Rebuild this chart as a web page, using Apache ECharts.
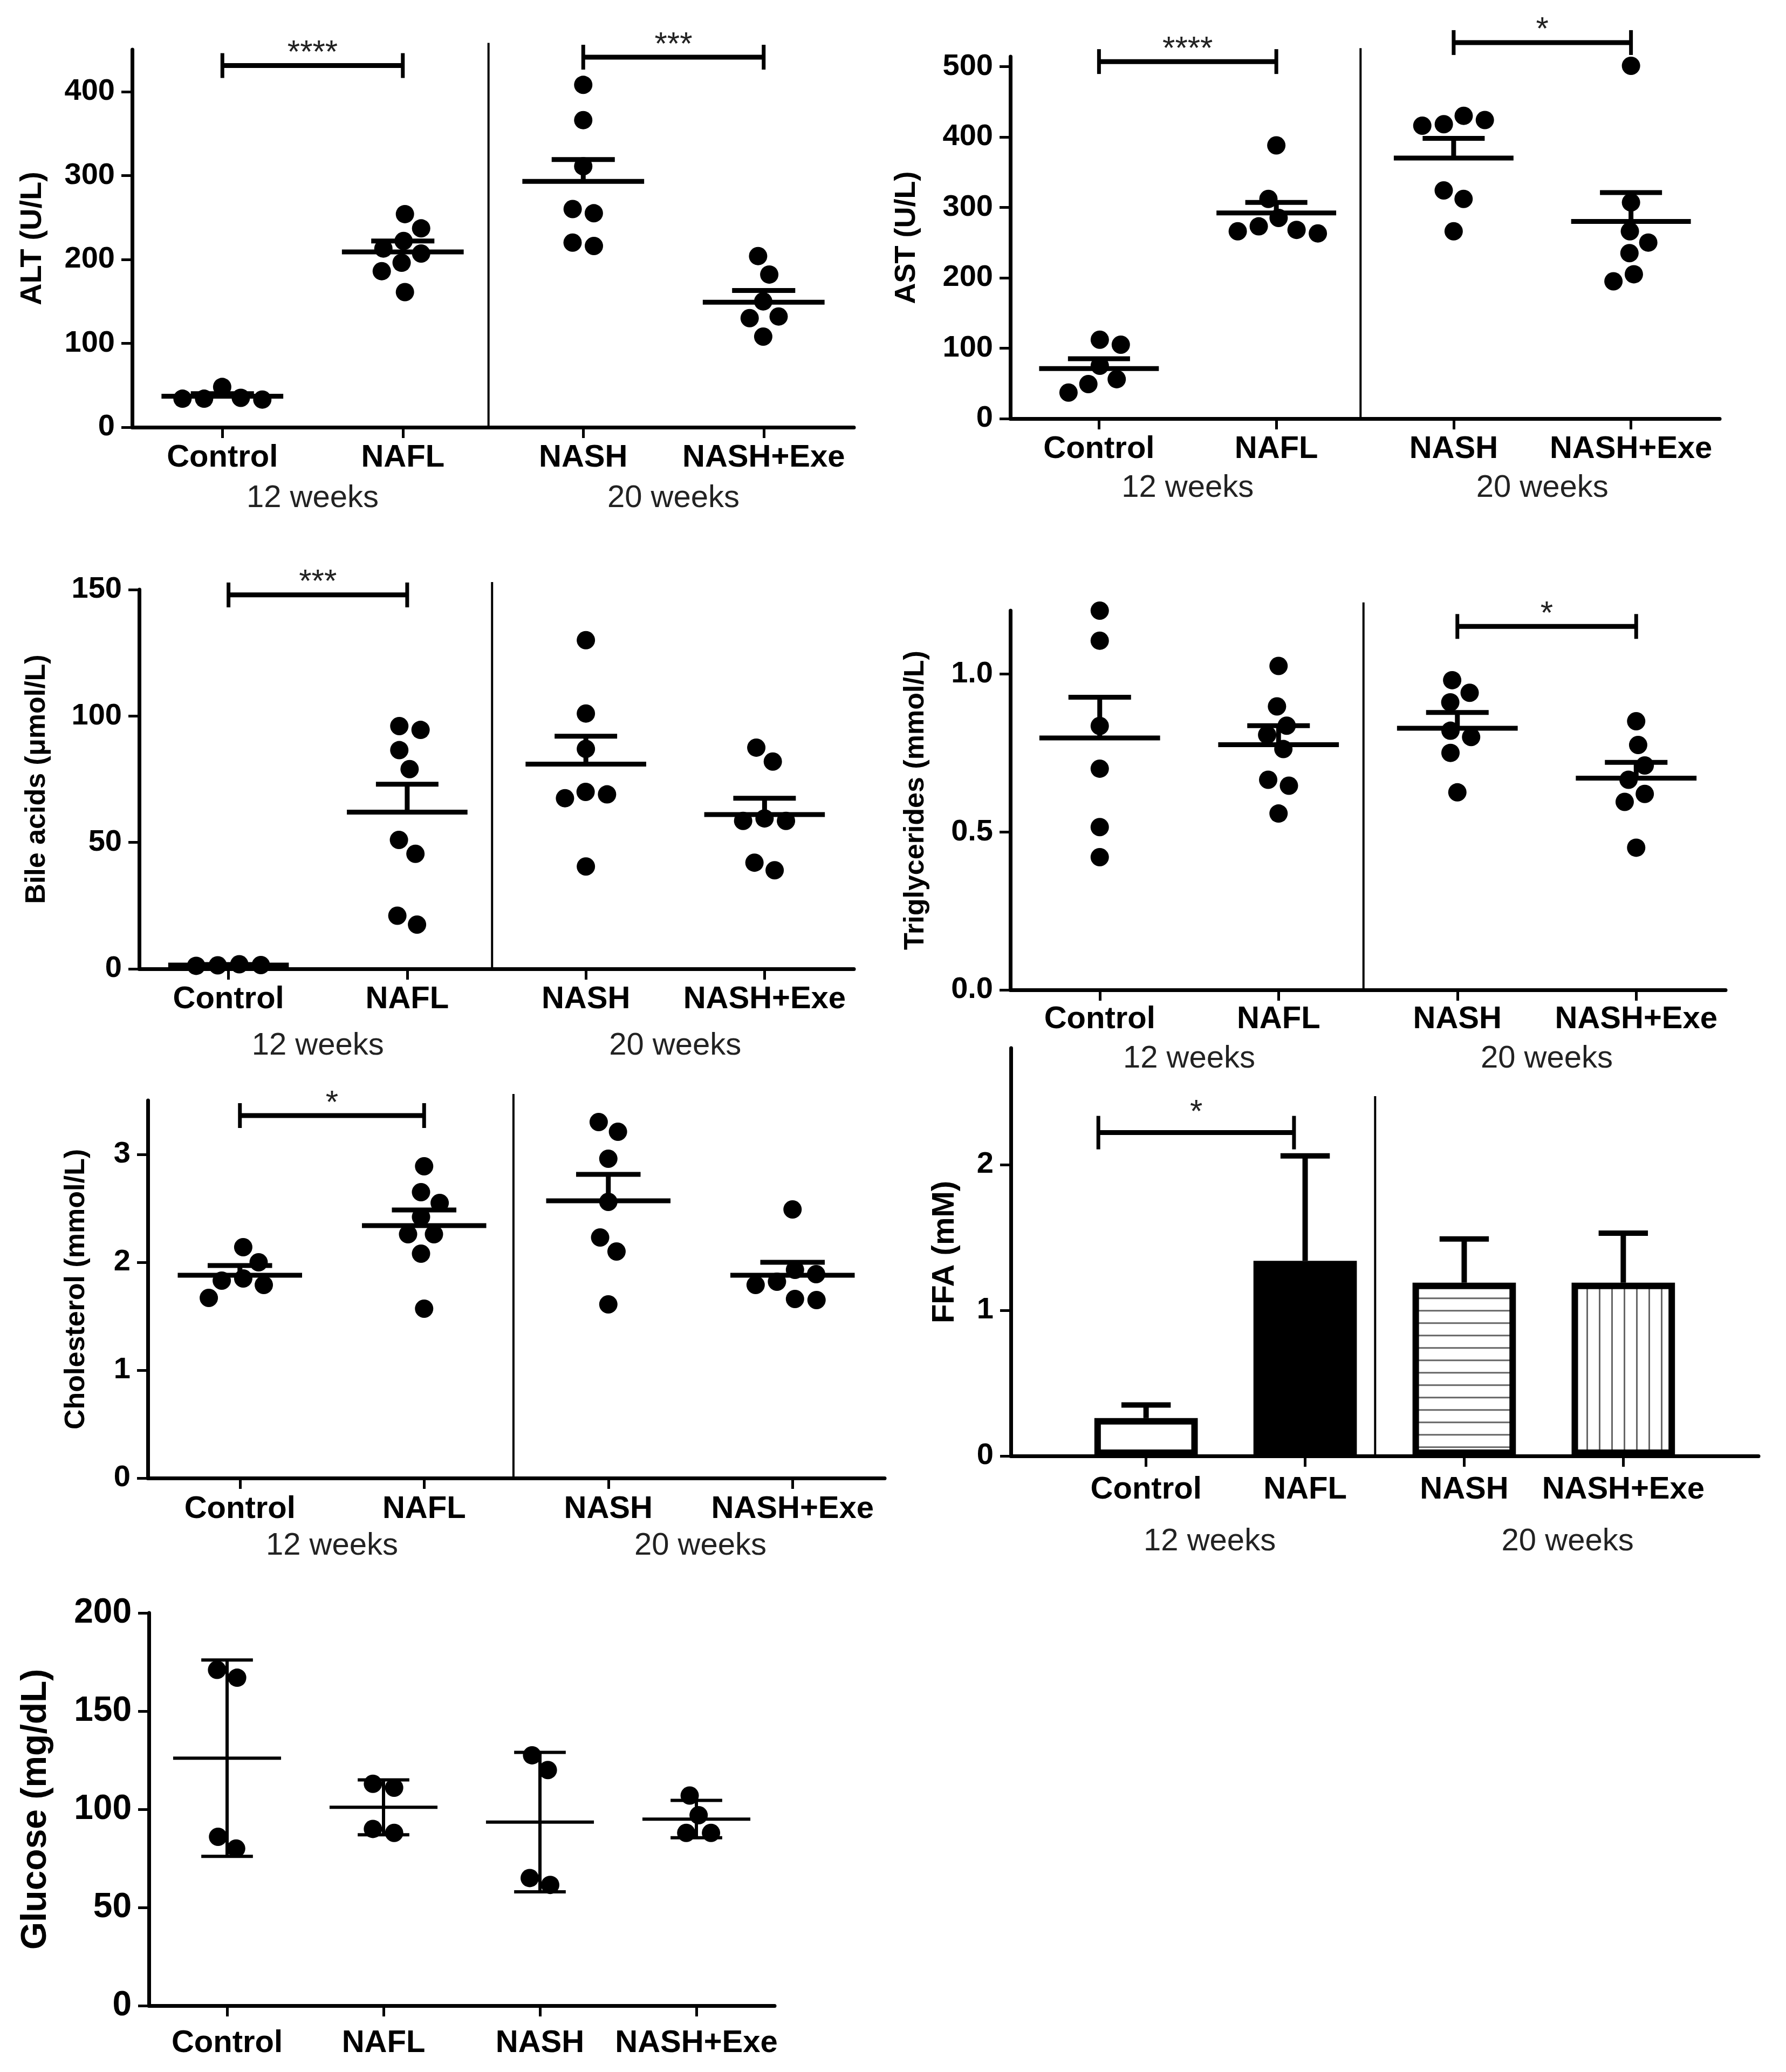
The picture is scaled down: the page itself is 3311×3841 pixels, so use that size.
<!DOCTYPE html>
<html>
<head>
<meta charset="utf-8">
<title>Serum biochemistry</title>
<script src="https://cdn.jsdelivr.net/npm/echarts@6/dist/echarts.min.js"></script>
<style>
html, body { margin: 0; padding: 0; background: #fff; }
#main { width: 3311px; height: 3841px; }
</style>
</head>
<body>
<div id="main"></div>
<script>
var groups = ['Control', 'NAFL', 'NASH', 'NASH+Exe'];
var periods = ['12 weeks', '20 weeks'];

// ALT (U/L)
var altTicks = [0, 100, 200, 300, 400];
var altPoints = [[34, 33, 48, 34, 35], [254, 237, 222, 213, 207, 196, 186, 161], [408, 366, 311, 260, 255, 220, 216], [204, 182, 150, 132, 130, 108]];
var altMean = [37, 209, 293, 149];
var altSem = [3, 13, 26, 14];
var altSig = [[0, 1, 431], [2, 3, 441]];
var altStars = ['****', '***'];

// AST (U/L)
var astTicks = [0, 100, 200, 300, 400, 500];
var astPoints = [[112, 105, 75, 56, 49, 37], [388, 312, 285, 273, 268, 266, 263], [430, 424, 418, 416, 324, 312, 266], [501, 307, 266, 250, 235, 205, 195]];
var astMean = [71, 292, 370, 280];
var astSem = [14, 15, 28, 41];
var astSig = [[0, 1, 507], [2, 3, 534]];
var astStars = ['****', '*'];

// Bile acids (umol/L)
var bileTicks = [0, 50, 100, 150];
var bilePoints = [[1.8, 1.5, 1.4, 1.2], [96, 94.5, 86.5, 79, 51, 45.5, 21, 17.5], [130, 101, 87, 70, 69, 67.5, 40.5], [87.5, 82, 59.5, 58.5, 58.5, 42, 39]];
var bileMean = [1.5, 62, 81, 61];
var bileSem = [0.2, 11, 11, 6.5];
var bileSig = [[0, 1, 147.9]];
var bileStars = ['***'];

// Triglycerides (mmol/L)
var tgTicks = [0, 0.5, 1.0];
var tgPoints = [[1.2, 1.105, 0.835, 0.7, 0.515, 0.42], [1.025, 0.897, 0.836, 0.807, 0.762, 0.665, 0.646, 0.558], [0.98, 0.94, 0.91, 0.82, 0.8, 0.75, 0.625], [0.85, 0.775, 0.71, 0.665, 0.62, 0.595, 0.45]];
var tgMean = [0.797, 0.776, 0.828, 0.67];
var tgSem = [0.129, 0.06, 0.05, 0.05];
var tgSig = [[2, 3, 1.15]];
var tgStars = ['*'];

// Cholesterol (mmol/L)
var cholTicks = [0, 1, 2, 3];
var cholPoints = [[2.14, 2.0, 1.85, 1.83, 1.79, 1.67], [2.89, 2.65, 2.55, 2.42, 2.26, 2.26, 2.08, 1.57], [3.3, 3.21, 2.96, 2.56, 2.23, 2.1, 1.61], [2.49, 1.93, 1.89, 1.82, 1.79, 1.66, 1.65]];
var cholMean = [1.88, 2.34, 2.57, 1.88];
var cholSem = [0.09, 0.145, 0.245, 0.12];
var cholSig = [[0, 1, 3.36]];
var cholStars = ['*'];

// FFA (mM), bars
var ffaTicks = [0, 1, 2];
var ffaMean = [0.26, 1.34, 1.19, 1.19];
var ffaSem = [0.09, 0.72, 0.30, 0.34];
var ffaSig = [[-0.3, 0.93, 2.22]];
var ffaStars = ['*'];

// Glucose (mg/dL), mean with SD
var gluTicks = [0, 50, 100, 150, 200];
var gluPoints = [[171, 167, 86, 80], [113, 111, 90, 88], [127.5, 120, 65, 61.5], [107, 97, 88, 88]];
var gluMean = [126, 101, 93.5, 95];
var gluSd = [50, 14, 35.5, 9.5];

var FONT = '"Liberation Sans", Arial, Helvetica, sans-serif';

var panels = [
    {title: 'ALT (U/L)', ticks: altTicks, points: altPoints, mean: altMean, err: altSem, sig: altSig, stars: altStars,
        left: 245, top: 92, width: 1338, height: 700, max: 450, nameGap: 156, nameSize: 56,
        div: 1.475, divTop: 458, periodAt: [0.5, 2.5], catMargin: 27, periodGap: 75},
    {title: 'AST (U/L)', ticks: astTicks, points: astPoints, mean: astMean, err: astSem, sig: astSig, stars: astStars,
        left: 1873, top: 105, width: 1315, height: 671, max: 514, nameGap: 165, nameSize: 54,
        div: 1.475, divTop: 526, periodAt: [0.5, 2.5], catMargin: 27, periodGap: 72},
    {title: 'Bile acids (\u03bcmol/L)', ticks: bileTicks, points: bilePoints, mean: bileMean, err: bileSem, sig: bileSig, stars: bileStars,
        left: 258, top: 1093, width: 1325, height: 703, max: 150, nameGap: 163, nameSize: 52,
        div: 1.475, divTop: 153, periodAt: [0.5, 2.5], catMargin: 27, periodGap: 86},
    {title: 'Triglycerides (mmol/L)', ticks: tgTicks, points: tgPoints, mean: tgMean, err: tgSem, sig: tgSig, stars: tgStars,
        left: 1873, top: 1132, width: 1326, height: 703, max: 1.2, nameGap: 149, nameSize: 52, digits: 1,
        div: 1.475, divTop: 1.226, periodAt: [0.5, 2.5], catMargin: 25, periodGap: 73},
    {title: 'Cholesterol (mmol/L)', ticks: cholTicks, points: cholPoints, mean: cholMean, err: cholSem, sig: cholSig, stars: cholStars,
        left: 274, top: 2040, width: 1366, height: 700, max: 3.5, nameGap: 106, nameSize: 52,
        div: 1.485, divTop: 3.56, periodAt: [0.5, 2.5], catMargin: 28, periodGap: 68},
    {title: 'FFA (mM)', ticks: ffaTicks, mean: ffaMean, err: ffaSem, sig: ffaSig, stars: ffaStars, bars: true,
        fills: ['open', 'solid', 'hlines', 'vlines'],
        left: 1874, top: 1943, width: 1386, height: 756, max: 2.8, xMin: -0.85, xMax: 3.85, nameGap: 93, nameSize: 58,
        div: 1.44, divTop: 2.47, periodAt: [0.4, 2.65], catMargin: 33, periodGap: 96, sigTick: 31, starGap: 36},
    {title: 'Glucose (mg/dL)', ticks: gluTicks, points: gluPoints, mean: gluMean, err: gluSd, both: true,
        left: 276, top: 2990, width: 1160, height: 728, max: 200, nameGap: 176, nameSize: 66, tickSize: 64,
        periodAt: [], catMargin: 40, meanW: 0.69, capW: 0.33, lw: 6}
];

function ln(x1, y1, x2, y2, w, color) {
    return {type: 'line', shape: {x1: x1, y1: y1, x2: x2, y2: y2}, style: {stroke: color || '#000', lineWidth: w}};
}

// horizontal spread of overlapping dots, in pixels, recentred per run
function swarm(vals, pxY, d) {
    var order = vals.map(function (v, i) { return i; }).sort(function (a, b) { return vals[b] - vals[a]; });
    var placed = [];
    var xs = [];
    order.forEach(function (i) {
        var y = vals[i] * pxY;
        var cands = [0];
        placed.forEach(function (q) {
            var dy = Math.abs(q.y - y);
            if (dy < d) {
                var dx = Math.sqrt(d * d - dy * dy);
                cands.push(q.x + dx, q.x - dx);
            }
        });
        cands.sort(function (a, b) { return Math.abs(a) - Math.abs(b); });
        var x = 0;
        for (var c = 0; c < cands.length; c++) {
            var ok = placed.every(function (q) {
                var dx = q.x - cands[c], dy = q.y - y;
                return dx * dx + dy * dy >= d * d - 1e-3;
            });
            if (ok) { x = cands[c]; break; }
        }
        placed.push({i: i, x: x, y: y});
    });
    var run = [];
    function flush() {
        var mid = run.reduce(function (s, q) { return s + q.x; }, 0) / run.length;
        run.forEach(function (q) { xs[q.i] = q.x - mid; });
        run = [];
    }
    placed.forEach(function (q) {
        if (run.length && run[run.length - 1].y - q.y >= d) flush();
        run.push(q);
    });
    if (run.length) flush();
    return xs;
}

var grids = [], xAxes = [], yAxes = [], series = [];

panels.forEach(function (p, i) {
    var xMin = p.xMin !== undefined ? p.xMin : -0.5;
    var xMax = p.xMax !== undefined ? p.xMax : 3.5;
    var pxY = p.height / p.max;
    var pxX = p.width / (xMax - xMin);
    var tickSize = p.tickSize || 56;

    grids.push({left: p.left, top: p.top, width: p.width, height: p.height});

    var labelVals = [0, 1, 2, 3].concat(p.periodAt);
    xAxes.push({
        gridIndex: i, type: 'value', min: xMin, max: xMax,
        axisLine: {show: true, onZero: false, lineStyle: {color: '#000', width: 7}},
        axisTick: {show: true, customValues: [0, 1, 2, 3], length: 20, lineStyle: {color: '#000', width: 5}},
        splitLine: {show: false},
        axisLabel: {
            customValues: labelVals,
            margin: p.catMargin,
            formatter: function (v) {
                var g = Math.round(v);
                if (Math.abs(v - g) < 1e-6 && groups[g] !== undefined) return '{cat|' + groups[g] + '}';
                var k = p.periodAt.findIndex(function (a) { return Math.abs(a - v) < 1e-6; });
                return k < 0 ? '' : '{gap| }\n{per|' + periods[k] + '}';
            },
            rich: {
                cat: {fontSize: 58, fontWeight: 'bold', fontFamily: FONT, color: '#000', lineHeight: 60},
                gap: {fontSize: 10, lineHeight: p.periodGap || 60},
                per: {fontSize: 58, fontFamily: FONT, color: '#222', lineHeight: 60}
            }
        }
    });

    yAxes.push({
        gridIndex: i, type: 'value', min: 0, max: p.max,
        name: p.title, nameLocation: 'middle', nameGap: p.nameGap, nameRotate: 90,
        nameTextStyle: {fontSize: p.nameSize, fontWeight: 'bold', fontFamily: FONT, color: '#000'},
        axisLine: {show: true, onZero: false, lineStyle: {color: '#000', width: 7}},
        axisTick: {show: true, customValues: p.ticks, length: 20, lineStyle: {color: '#000', width: 5}},
        splitLine: {show: false},
        axisLabel: {
            customValues: p.ticks, margin: 32,
            fontSize: tickSize, fontWeight: 'bold', fontFamily: FONT, color: '#000',
            formatter: function (v) { return p.digits ? v.toFixed(p.digits) : String(v); }
        }
    });

    if (p.bars) {
        series.push({
            type: 'custom', xAxisIndex: i, yAxisIndex: i, clip: false, silent: true, z: 3,
            data: p.mean.map(function (m, g) { return [g, m, p.err[g]]; }),
            renderItem: function (params, api) {
                var g = api.value(0), m = api.value(1), e = api.value(2);
                var unit = api.size([1, 0])[0];
                var base = api.coord([g, 0]), top = api.coord([g, m]), cap = api.coord([g, m + e]);
                var w = unit * 0.65, bw = 12, step = 23;
                var x0 = base[0] - w / 2 + bw / 2, x1 = base[0] + w / 2 - bw / 2;
                var y0 = top[1] + bw / 2, y1 = base[1] - bw / 2;
                var fill = p.fills[g];
                var hc = unit * 0.155;
                var kids = [
                    ln(base[0], top[1], base[0], cap[1], 10),
                    ln(base[0] - hc, cap[1], base[0] + hc, cap[1], 10),
                    {type: 'rect', shape: {x: x0, y: y0, width: x1 - x0, height: y1 - y0},
                        style: {fill: fill === 'solid' ? '#000' : '#fff'}}
                ];
                var s;
                if (fill === 'hlines') {
                    for (s = y0 + step; s < y1 - 4; s += step) kids.push(ln(x0, s, x1, s, 3, '#666'));
                }
                if (fill === 'vlines') {
                    for (s = x0 + step; s < x1 - 4; s += step) kids.push(ln(s, y0, s, y1, 3, '#666'));
                }
                kids.push({type: 'rect', shape: {x: x0, y: y0, width: x1 - x0, height: y1 - y0},
                    style: {fill: 'none', stroke: '#000', lineWidth: bw}});
                return {type: 'group', children: kids};
            }
        });
    } else {
        var dots = [];
        p.points.forEach(function (vals, g) {
            var offs = swarm(vals, pxY, 40);
            vals.forEach(function (v, k) { dots.push([g + offs[k] / pxX, v]); });
        });
        series.push({
            type: 'scatter', xAxisIndex: i, yAxisIndex: i, silent: true, z: 2,
            symbol: 'circle', symbolSize: 34, itemStyle: {color: '#000', opacity: 1},
            data: dots
        });
        var meanW = p.meanW || 0.675, capW = p.capW || 0.35, lw = p.lw || 9;
        series.push({
            type: 'custom', xAxisIndex: i, yAxisIndex: i, clip: false, silent: true, z: 3,
            data: p.mean.map(function (m, g) { return [g, m, p.err[g]]; }),
            renderItem: function (params, api) {
                var g = api.value(0), m = api.value(1), e = api.value(2);
                var unit = api.size([1, 0])[0];
                var c = api.coord([g, m]), hi = api.coord([g, m + e]), lo = api.coord([g, m - e]);
                var hm = unit * meanW / 2, hc = unit * capW / 2;
                var kids = [
                    ln(c[0] - hm, c[1], c[0] + hm, c[1], lw),
                    ln(c[0], p.both ? lo[1] : c[1], c[0], hi[1], lw),
                    ln(c[0] - hc, hi[1], c[0] + hc, hi[1], lw)
                ];
                if (p.both) kids.push(ln(c[0] - hc, lo[1], c[0] + hc, lo[1], lw));
                return {type: 'group', children: kids};
            }
        });
    }

    if (p.div !== undefined) {
        series.push({
            type: 'custom', xAxisIndex: i, yAxisIndex: i, clip: false, silent: true, z: 1,
            data: [[p.div, p.divTop]],
            renderItem: function (params, api) {
                var a = api.coord([api.value(0), 0]), b = api.coord([api.value(0), api.value(1)]);
                return ln(a[0], a[1], b[0], b[1], 4);
            }
        });
    }

    if (p.sig) {
        var half = p.sigTick || 23, gap = p.starGap || 22;
        series.push({
            type: 'custom', xAxisIndex: i, yAxisIndex: i, clip: false, silent: true, z: 4,
            data: p.sig,
            renderItem: function (params, api) {
                var a = api.coord([api.value(0), api.value(2)]);
                var b = api.coord([api.value(1), api.value(2)]);
                return {type: 'group', children: [
                    ln(a[0], a[1], b[0], b[1], 9),
                    ln(a[0], a[1] - half, a[0], a[1] + half, 7),
                    ln(b[0], b[1] - half, b[0], b[1] + half, 7),
                    {type: 'text', style: {
                        text: p.stars[params.dataIndex], x: (a[0] + b[0]) / 2, y: a[1] - gap,
                        align: 'center', verticalAlign: 'middle',
                        font: '60px ' + FONT, fill: '#222'
                    }}
                ]};
            }
        });
    }
});

var chart = echarts.init(document.getElementById('main'), null, {renderer: 'canvas'});
chart.setOption({
    animation: false,
    backgroundColor: '#fff',
    textStyle: {fontFamily: FONT},
    grid: grids,
    xAxis: xAxes,
    yAxis: yAxes,
    series: series
});
</script>
</body>
</html>
